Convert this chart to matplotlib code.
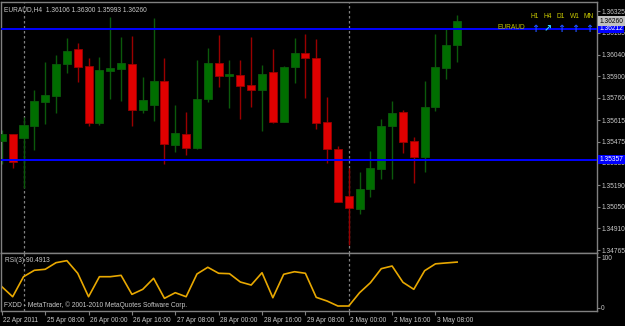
import matplotlib
matplotlib.use('Agg')
import matplotlib.pyplot as plt
from matplotlib import transforms

plt.rcParams['font.family'] = ['Liberation Sans', 'DejaVu Sans']

# ------------------------------------------------------
# EURAUD H4 bars, first bar = 22 Apr 2011 16:00
opens = [1.35477, 1.35522, 1.35496, 1.35575, 1.35731, 1.35771, 1.35980, 1.36078, 1.35967,
         1.35594, 1.35934, 1.35947, 1.35980, 1.35679, 1.35712, 1.35869, 1.35450, 1.35522,
         1.35431, 1.35751, 1.35987, 1.35902, 1.35908, 1.35842, 1.35810, 1.35928, 1.35601,
         1.35960, 1.36052, 1.36019, 1.35601, 1.35424, 1.35117, 1.35032, 1.35163, 1.35294,
         1.35575, 1.35666, 1.35477, 1.35372, 1.35699, 1.35954, 1.36106]
highs = [1.35548, 1.35525, 1.35634, 1.35810, 1.35993, 1.36039, 1.36150, 1.36117, 1.36019,
         1.36026, 1.36287, 1.36157, 1.36163, 1.35895, 1.36281, 1.36019, 1.35712, 1.35666,
         1.36006, 1.36085, 1.36170, 1.36006, 1.36006, 1.36157, 1.35974, 1.36078, 1.35967,
         1.36150, 1.36176, 1.36143, 1.35764, 1.35444, 1.35300, 1.35274, 1.35411, 1.35620,
         1.35738, 1.35679, 1.35503, 1.35869, 1.36176, 1.36209, 1.36300]
lows = [1.35326, 1.35300, 1.35174, 1.35418, 1.35588, 1.35660, 1.35921, 1.35862, 1.35575,
        1.35581, 1.35751, 1.35738, 1.35575, 1.35660, 1.35607, 1.35326, 1.35405, 1.35385,
        1.35424, 1.35731, 1.35829, 1.35692, 1.35620, 1.35699, 1.35542, 1.35594, 1.35601,
        1.35856, 1.35758, 1.35555, 1.35333, 1.35078, 1.34797, 1.35000, 1.35111, 1.35228,
        1.35228, 1.35398, 1.35202, 1.35274, 1.35673, 1.35882, 1.35993]
closes = [1.35522, 1.35339, 1.35581, 1.35738, 1.35777, 1.35980, 1.36065, 1.35960, 1.35594,
          1.35941, 1.35954, 1.35987, 1.35679, 1.35745, 1.35869, 1.35457, 1.35529, 1.35431,
          1.35751, 1.35987, 1.35902, 1.35915, 1.35836, 1.35810, 1.35915, 1.35601, 1.35960,
          1.36052, 1.36019, 1.35594, 1.35424, 1.35078, 1.35039, 1.35163, 1.35300, 1.35575,
          1.35660, 1.35470, 1.35372, 1.35699, 1.35960, 1.36104, 1.36260]

# RSI(3)
rsi = [41.7, 21.8, 61.5, 74.2, 76.2, 89.3, 93.3, 68.3, 21.8, 61.5, 61.5, 64.2, 26.5, 36.5,
       58.3, 18.6, 29.8, 21.8, 66.9, 80.2, 68.3, 67.5, 51.0, 45.0, 69.4, 19.8, 66.3, 71.4,
       68.3, 20.6, 13.3, 3.4, 3.4, 29.8, 49.6, 77.4, 82.7, 50.4, 36.5, 73.4, 87.0, 88.8, 90.49]
rsi_label = 'RSI(3) 90.4913'

# time axis
time_label_bars = [0, 4, 8, 12, 16, 20, 24, 28, 32, 36, 40]
time_labels = ['22 Apr 2011', '25 Apr 08:00', '26 Apr 00:00', '26 Apr 16:00', '27 Apr 08:00',
               '28 Apr 00:00', '28 Apr 16:00', '29 Apr 08:00', '2 May 00:00', '2 May 16:00',
               '3 May 08:00']
week_separators = [2, 32]

price_ticks = [1.36325, 1.36185, 1.36040, 1.35900, 1.35760, 1.35615, 1.35475, 1.35335,
               1.35190, 1.35050, 1.34910, 1.34765]
level_hi = 1.36212
level_lo = 1.35357
# ------------------------------------------------------

W, H = 625, 326
FS = 4.8
fig = plt.figure(figsize=(W / 100, H / 100), dpi=100, facecolor='black')

def rect(x0, y0, x1, y1):
    return [x0 / W, 1 - y1 / H, (x1 - x0) / W, (y1 - y0) / H]

ax = fig.add_axes(rect(1.5, 2, 597, 252.5))
ax2 = fig.add_axes(rect(1.5, 253, 597, 311))

grey = '#808080'
txt = '#c8c8c8'
for a in (ax, ax2):
    a.set_facecolor('black')
    for s in a.spines.values():
        s.set_color(grey)
        s.set_linewidth(1)
    a.set_xlim(-0.03, 54.9)

# ------------------------------------------------------
# candles
n = len(opens)
xs = list(range(n))
for i in xs:
    up = closes[i] >= opens[i]
    body = '#006e00' if up else '#e00000'
    wick = '#0b5a0b' if up else '#9a0000'
    ax.vlines(i, lows[i], highs[i], color=wick, lw=1, zorder=2)
    lo, hi = min(opens[i], closes[i]), max(opens[i], closes[i])
    ax.bar(i, max(hi - lo, 0.00003), bottom=lo, width=0.74, color=body,
           edgecolor=wick, linewidth=0.6, zorder=3)

ax.set_ylim(1.34751, 1.36385)
ax.axhline(level_hi, color='#0000ff', lw=1.4, zorder=4)
ax.axhline(level_lo, color='#0000ff', lw=1.4, zorder=4)

for a in (ax, ax2):
    for s in week_separators:
        a.axvline(s, color=grey, lw=0.9, ls=(0, (2, 2)), zorder=1)

ax.yaxis.tick_right()
ax.set_yticks(price_ticks)
ax.set_yticklabels(['%.5f' % p for p in price_ticks])
ax.tick_params(axis='y', colors=grey, labelcolor=txt, labelsize=FS, length=2, pad=1)
ax.set_xticks([])

# price boxes on the right axis
ytr = transforms.blended_transform_factory(ax.transAxes, ax.transData)
for val, fc, tc in [(level_hi, '#0000ff', 'white'), (level_lo, '#0000ff', 'white'),
                    (closes[-1], '#c0c0c0', 'black')]:
    ax.text(1.004, val, '%.5f' % val, transform=ytr, fontsize=FS, color=tc,
            va='center', ha='left', bbox=dict(boxstyle='square,pad=0.2', fc=fc, ec='none'),
            clip_on=False, zorder=6)

# header
ax.text(0.004, 0.985, 'EURAUD,H4  %.5f %.5f %.5f %.5f' % (opens[-1], highs[-1], lows[-1], closes[-1]),
        transform=ax.transAxes, fontsize=FS, color=txt, va='top', ha='left')

# trend panel
fig.text(525 / W, 1 - 27.5 / H, 'EURAUD', color='#c8c800', fontsize=FS, ha='right', va='center')
tf_names = ['H1', 'H4', 'D1', 'W1', 'MN']
tf_x = [535, 548, 561, 575, 589]
tf_arrows = ['\u2191', '\u2197', '\u2191', '\u2191', '\u2191']
tf_cols = ['#1e50ff', '#30c8ff', '#1e50ff', '#1e50ff', '#1e50ff']
for name, px, ar, c in zip(tf_names, tf_x, tf_arrows, tf_cols):
    fig.text(px / W, 1 - 16 / H, name, color='#c8c800', fontsize=FS, ha='center', va='center')
    fig.text(px / W, 1 - 28.5 / H, ar, color=c, fontsize=7, ha='center', va='center',
             family=['DejaVu Sans'], fontweight='bold', zorder=7)

# ------------------------------------------------------
# RSI panel
ax2.plot(xs, rsi, color='#e8a800', lw=1.2)
ax2.set_ylim(-6.5, 108.5)
ax2.yaxis.tick_right()
ax2.set_yticks([0, 100])
ax2.set_yticklabels(['0', '100'])
ax2.tick_params(axis='y', colors=grey, labelcolor=txt, labelsize=FS, length=2, pad=1)
ax2.text(0.006, 0.93, rsi_label, transform=ax2.transAxes, fontsize=FS,
         color=txt, va='top', ha='left')
ax2.text(0.004, 0.03, 'FXDD - MetaTrader, \u00a9 2001-2010 MetaQuotes Software Corp.',
         transform=ax2.transAxes, fontsize=FS, color=txt, va='bottom', ha='left')

ax2.set_xticks(time_label_bars)
ax2.set_xticklabels(time_labels)
ax2.tick_params(axis='x', colors=grey, labelcolor=txt, labelsize=FS, length=3, pad=1.5)
shift = transforms.ScaledTranslation(1.5 / 100, 0, fig.dpi_scale_trans)
for lab in ax2.get_xticklabels():
    lab.set_ha('left')
    lab.set_transform(lab.get_transform() + shift)

fig.savefig('out.png', dpi=100, facecolor='black')
